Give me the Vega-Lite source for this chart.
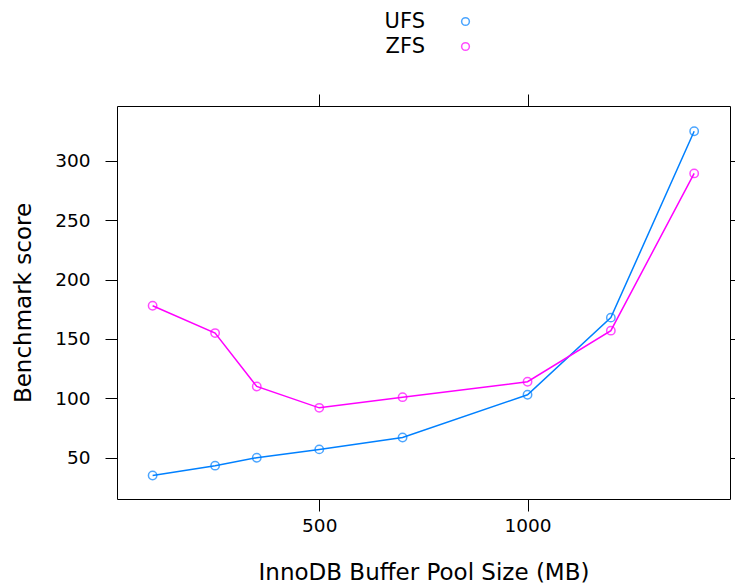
{
  "$schema": "https://vega.github.io/schema/vega-lite/v6.json",
  "autosize": {"type": "none"},
  "width": 613,
  "height": 393,
  "padding": {"left": 117, "top": 106, "right": 5, "bottom": 87},
  "background": "white",
  "config": {
    "view": {"stroke": "black", "strokeWidth": 1},
    "font": "DejaVu Sans",
    "axis": {
      "domain": false,
      "grid": false,
      "tickColor": "black",
      "tickSize": 12,
      "tickWidth": 1,
      "labelColor": "black",
      "labelFont": "DejaVu Sans",
      "labelFontSize": 18.5,
      "titleFont": "DejaVu Sans",
      "titleFontSize": 23,
      "titleFontWeight": "normal",
      "titleColor": "black"
    }
  },
  "data": {
    "values": [
      {"size": 100, "score": 35, "fs": "UFS"},
      {"size": 250, "score": 43.3, "fs": "UFS"},
      {"size": 350, "score": 50, "fs": "UFS"},
      {"size": 500, "score": 57, "fs": "UFS"},
      {"size": 700, "score": 67, "fs": "UFS"},
      {"size": 1000, "score": 103, "fs": "UFS"},
      {"size": 1200, "score": 168, "fs": "UFS"},
      {"size": 1400, "score": 325, "fs": "UFS"},
      {"size": 100, "score": 178, "fs": "ZFS"},
      {"size": 250, "score": 155, "fs": "ZFS"},
      {"size": 350, "score": 110, "fs": "ZFS"},
      {"size": 500, "score": 92, "fs": "ZFS"},
      {"size": 700, "score": 101, "fs": "ZFS"},
      {"size": 1000, "score": 114, "fs": "ZFS"},
      {"size": 1200, "score": 157, "fs": "ZFS"},
      {"size": 1400, "score": 289.5, "fs": "ZFS"}
    ]
  },
  "encoding": {
    "color": {"field": "fs", "type": "nominal", "scale": {"domain": ["UFS", "ZFS"], "range": ["#0080ff", "#ff00ff"]},
              "legend": {"orient": "none", "legendX": 338, "legendY": -95, "title": null, "padding": 0,
                         "labelAlign": "right", "labelOffset": -51, "labelFontSize": 21, "labelColor": "black",
                         "labelFont": "DejaVu Sans", "symbolType": "circle", "symbolSize": 60, "symbolStrokeWidth": 1.5,
                         "symbolFillColor": "transparent", "rowPadding": 3}}
  },
  "layer": [
    {
      "mark": {"type": "line", "strokeWidth": 1.5},
      "encoding": {
        "x": {"field": "size", "type": "quantitative", "scale": {"domain": [14.5, 1486], "nice": false, "zero": false},
              "axis": {"values": [500, 1000], "format": "d", "title": "InnoDB Buffer Pool Size (MB)", "labelPadding": 5, "titlePadding": 27}},
        "y": {"field": "score", "type": "quantitative", "scale": {"domain": [15.2, 346.3], "nice": false, "zero": false},
              "axis": {"values": [50, 100, 150, 200, 250, 300], "title": "Benchmark score", "labelPadding": 15, "titlePadding": 19}},
        "detail": {"field": "fs"}
      }
    },
    {
      "mark": {"type": "point", "filled": false, "size": 70, "strokeWidth": 1.5},
      "encoding": {
        "x": {"field": "size", "type": "quantitative", "axis": {"orient": "top", "values": [500, 1000], "labels": false, "title": null}},
        "y": {"field": "score", "type": "quantitative", "axis": {"orient": "right", "values": [50, 100, 150, 200, 250, 300], "labels": false, "title": null}}
      }
    }
  ],
  "resolve": {"axis": {"x": "independent", "y": "independent"}}
}
